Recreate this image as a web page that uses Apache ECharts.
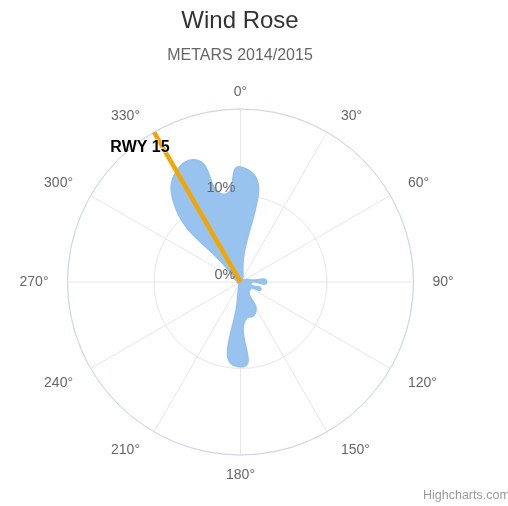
<!DOCTYPE html>
<html>
<head>
<meta charset="utf-8">
<script src="https://cdn.jsdelivr.net/npm/echarts@6.0.0/dist/echarts.min.js"></script>
<style>
html,body{margin:0;padding:0;background:#ffffff;}
#chart{width:508px;height:506px;}
</style>
</head>
<body>
<div id="chart"></div>
<script>
// ---- data ----
const directions = [0,10,20,30,40,50,60,70,80,90,100,110,120,130,140,150,160,170,180,190,200,210,220,230,240,250,260,270,280,290,300,310,320,330,340,350];
const frequencies = [13.3,1.5,0.8,0.5,0.4,0.4,0.5,0.8,1.3,3.0,1.2,2.5,1.4,1.4,1.5,3.6,4.2,4.2,9.8,2.0,0.6,0.4,0.3,0.3,0.3,0.3,0.3,0.4,0.4,0.5,0.8,1.2,12.0,14.8,15.0,10.3];
const radiusTicks = [0,10,20];
const radiusTickLabels = ['0%','10%',''];
const runwayHeading = 330;
const runwayLabel = 'RWY 15';
const radiusMax = 20;

const FONT = '"Liberation Sans", Arial, Helvetica, sans-serif';

// Highcharts-style polar spline (closed)
function polarSplinePath(pts) {
  const seg = pts.concat([pts[0]]);
  const n = seg.length;
  const s = 1.5, den = s + 1;
  const leftC = [], rightC = [];
  for (let i = 0; i < n; i++) {
    const p = seg[i];
    const last = i > 0 ? seg[i - 1] : seg[n - 2];
    const next = i < n - 1 ? seg[i + 1] : seg[1];
    const lx = (s * p[0] + last[0]) / den, ly = (s * p[1] + last[1]) / den;
    const rx = (s * p[0] + next[0]) / den, ry = (s * p[1] + next[1]) / den;
    const dl = Math.hypot(lx - p[0], ly - p[1]);
    const dr = Math.hypot(rx - p[0], ry - p[1]);
    const la = Math.atan2(ly - p[1], lx - p[0]);
    const ra = Math.atan2(ry - p[1], rx - p[0]);
    let ja = Math.PI / 2 + (la + ra) / 2;
    if (Math.abs(la - ja) > Math.PI / 2) ja -= Math.PI;
    leftC[i] = [p[0] + Math.cos(ja) * dl, p[1] + Math.sin(ja) * dl];
    rightC[i] = [p[0] + Math.cos(Math.PI + ja) * dr, p[1] + Math.sin(Math.PI + ja) * dr];
  }
  let d = 'M' + seg[0][0] + ' ' + seg[0][1];
  for (let i = 1; i < n; i++) {
    d += ' C' + rightC[i - 1][0] + ' ' + rightC[i - 1][1] + ' ' +
         leftC[i][0] + ' ' + leftC[i][1] + ' ' + seg[i][0] + ' ' + seg[i][1];
  }
  return d + ' Z';
}

const chart = echarts.init(document.getElementById('chart'), null, {renderer: 'canvas'});

const polarCenter = [240.5, 282];
const polarRadius = 173;

chart.setOption({
  animation: false,
  backgroundColor: '#ffffff',
  title: [{
    text: 'Wind Rose',
    subtext: 'METARS 2014/2015',
    left: 240, textAlign: 'center', top: 9, padding: 0, itemGap: 15,
    textStyle: {fontSize: 24, color: '#333333', fontWeight: 'normal', fontFamily: FONT},
    subtextStyle: {fontSize: 16, color: '#666666', fontFamily: FONT}
  }, {
    text: 'Highcharts.com',
    left: 423, top: 489, padding: 0,
    textStyle: {fontSize: 12.5, color: '#999999', fontWeight: 'normal', fontFamily: FONT}
  }],
  polar: [
    {center: polarCenter, radius: polarRadius},
    {center: polarCenter, radius: polarRadius}
  ],
  angleAxis: [{
    polarIndex: 0, type: 'value', min: 0, max: 360, interval: 30,
    startAngle: 90, clockwise: true, z: 0,
    axisLine: {show: true, lineStyle: {color: '#ccd6eb', width: 1}},
    axisTick: {show: false},
    splitLine: {show: true, lineStyle: {color: '#e6e6e6', width: 1}},
    axisLabel: {
      show: true, margin: 10, padding: [3, 9, 0, 9],
      color: '#666666', fontSize: 14, fontFamily: FONT,
      formatter: v => (v >= 360 ? '' : v + '°')
    }
  }, {
    polarIndex: 1, type: 'value', min: 0, max: 360, startAngle: 90, clockwise: true,
    show: false
  }],
  radiusAxis: [{
    polarIndex: 0, type: 'value', min: 0, max: radiusMax, interval: 10, z: 0,
    axisLine: {show: false}, axisTick: {show: false}, axisLabel: {show: false},
    splitLine: {show: true, lineStyle: {color: '#e6e6e6', width: 1}}
  }, {
    polarIndex: 1, type: 'value', min: 0, max: radiusMax, interval: 10, z: 3,
    axisLine: {show: false}, axisTick: {show: false}, splitLine: {show: false},
    axisLabel: {
      show: true, margin: 5, align: 'right', verticalAlign: 'bottom',
      color: '#666666', fontSize: 14.5, fontFamily: FONT,
      formatter: v => { const i = radiusTicks.indexOf(v); return i >= 0 ? radiusTickLabels[i] : ''; }
    }
  }],
  series: [{
    type: 'custom', coordinateSystem: 'polar', polarIndex: 0, z: 2, clip: false, silent: true,
    data: directions.map((d, i) => [frequencies[i], d]),
    renderItem: function (params, api) {
      if (params.dataIndex !== 0) return null;
      const pts = directions.map((d, i) => api.coord([frequencies[i], d]));
      return {
        type: 'path',
        shape: {pathData: polarSplinePath(pts)},
        style: {fill: '#98c3ef', stroke: '#93c0ee', lineWidth: 1.6, lineJoin: 'round'}
      };
    }
  }, {
    type: 'line', coordinateSystem: 'polar', polarIndex: 0, z: 5, silent: true,
    symbol: 'circle', symbolSize: 1, showSymbol: true,
    lineStyle: {color: '#f5a500', width: 4.5},
    itemStyle: {color: '#f5a500'},
    label: {show: false},
    data: [
      [0, runwayHeading],
      {
        value: [radiusMax, runwayHeading],
        label: {
          show: true, formatter: runwayLabel, position: 'bottom', distance: 7, offset: [-14, 0],
          color: '#000000', fontSize: 16, fontWeight: 'bold', fontFamily: FONT,
          textBorderColor: '#ffffff', textBorderWidth: 1
        }
      }
    ]
  }]
});
</script>
</body>
</html>
